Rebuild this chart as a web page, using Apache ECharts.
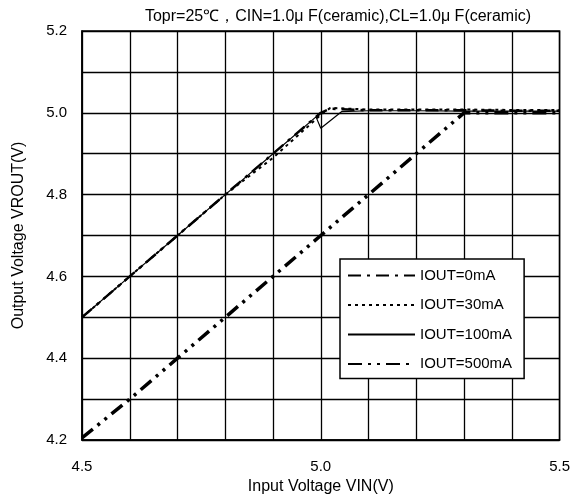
<!DOCTYPE html>
<html>
<head>
<meta charset="utf-8">
<script src="https://cdn.jsdelivr.net/npm/echarts@6/dist/echarts.min.js"></script>
<style>
  html, body { margin: 0; padding: 0; background: #fff; }
  #chart { width: 573px; height: 500px; }
</style>
</head>
<body>
<div id="chart"></div>
<script>
var titleText = 'Topr=25\u2103\uFF0CCIN=1.0\u03BC F(ceramic),CL=1.0\u03BC F(ceramic)';
var seriesNames = ['IOUT=0mA', 'IOUT=30mA', 'IOUT=100mA', 'IOUT=500mA'];

// input voltage / output voltage pairs
var vin0 = [4.5, 4.6, 4.7, 4.8, 4.9, 5.0, 5.02, 5.1, 5.2, 5.3, 5.4, 5.5];
var out0 = [4.5, 4.6, 4.7, 4.8, 4.9, 5.0, 5.01, 5.006, 5.006, 5.006, 5.005, 5.005];
var vin30 = [4.5, 4.6, 4.7, 4.8, 4.9, 5.0, 5.02, 5.1, 5.2, 5.3, 5.4, 5.5];
var out30 = [4.5, 4.6, 4.7, 4.8, 4.89, 4.995, 5.012, 5.008, 5.008, 5.008, 5.007, 5.007];
var vin100 = [4.5, 4.6, 4.7, 4.8, 4.9, 4.99, 5.0, 5.044, 5.1, 5.2, 5.3, 5.4, 5.5];
var out100 = [4.5, 4.6, 4.7, 4.8, 4.9, 4.99, 4.962, 5.003, 5.005, 5.005, 5.004, 5.004, 5.004];
var vin500 = [4.5, 4.6, 4.7, 4.8, 4.9, 5.0, 5.1, 5.2, 5.3, 5.4, 5.5];
var out500 = [4.205, 4.3, 4.4, 4.5, 4.6, 4.7, 4.8, 4.9, 5.0, 5.0, 5.0];

var pairs = function (xs, ys) {
    return xs.map(function (x, i) { return [x, ys[i]]; });
};

var chart = echarts.init(document.getElementById('chart'));
var font = 'Liberation Sans, Arial, sans-serif';

var mkLine = function (name, data, type, width) {
    return {
        name: name,
        type: 'line',
        data: data,
        symbol: 'none',
        color: '#000',
        animation: false,
        lineStyle: { color: '#000', width: width, type: type }
    };
};

var option = {
    backgroundColor: '#fff',
    textStyle: { fontFamily: font, color: '#000' },
    title: {
        text: titleText,
        left: 333,
        top: 4,
        textAlign: 'center',
        textStyle: { fontSize: 16, fontWeight: 'normal', color: '#000', fontFamily: font }
    },
    legend: {
        orient: 'vertical',
        left: 340,
        top: 259,
        padding: [9, 12, 7, 7],
        itemGap: 14.5,
        itemWidth: 67,
        itemHeight: 16,
        backgroundColor: '#fff',
        borderColor: '#000',
        borderWidth: 1.5,
        borderRadius: 0,
        itemStyle: { opacity: 0 },
        textStyle: { fontSize: 15, color: '#000', fontFamily: font },
        data: seriesNames
    },
    grid: {
        left: 82, right: 11, top: 31, bottom: 56,
        show: true, borderColor: '#000', borderWidth: 1.5
    },
    xAxis: {
        type: 'value',
        min: 4.5, max: 5.5, interval: 0.1,
        name: 'Input Voltage VIN(V)',
        nameLocation: 'middle',
        nameGap: 39,
        nameTextStyle: { fontSize: 16, color: '#000', fontFamily: font },
        axisLine: { show: true, lineStyle: { color: '#000', width: 1.5 } },
        axisTick: { show: false },
        splitLine: { show: true, lineStyle: { color: '#000', width: 1.3 } },
        axisLabel: {
            margin: 19, fontSize: 15, color: '#000', fontFamily: font,
            formatter: function (v) {
                return Math.round(v * 10) % 5 === 0 ? v.toFixed(1) : '';
            }
        }
    },
    yAxis: {
        type: 'value',
        min: 4.2, max: 5.2, interval: 0.1,
        name: 'Output Voltage VROUT(V)',
        nameLocation: 'middle',
        nameGap: 55,
        nameTextStyle: { fontSize: 16, color: '#000', fontFamily: font },
        axisLine: { show: true, lineStyle: { color: '#000', width: 1.5 } },
        axisTick: { show: false },
        splitLine: { show: true, lineStyle: { color: '#000', width: 1.3 } },
        axisLabel: {
            margin: 15, fontSize: 15, color: '#000', fontFamily: font,
            formatter: function (v) {
                return Math.round(v * 10) % 2 === 0 ? v.toFixed(1) : '';
            }
        }
    },
    series: [
        mkLine(seriesNames[0], pairs(vin0, out0), [13, 6, 3, 6], 2.5),
        mkLine(seriesNames[1], pairs(vin30, out30), [3, 4], 2),
        mkLine(seriesNames[2], pairs(vin100, out100), 'solid', 1.2),
        mkLine(seriesNames[3], pairs(vin500, out500), [14, 6, 3, 6, 3, 6], 3.5)
    ]
};

chart.setOption(option);
</script>
</body>
</html>
